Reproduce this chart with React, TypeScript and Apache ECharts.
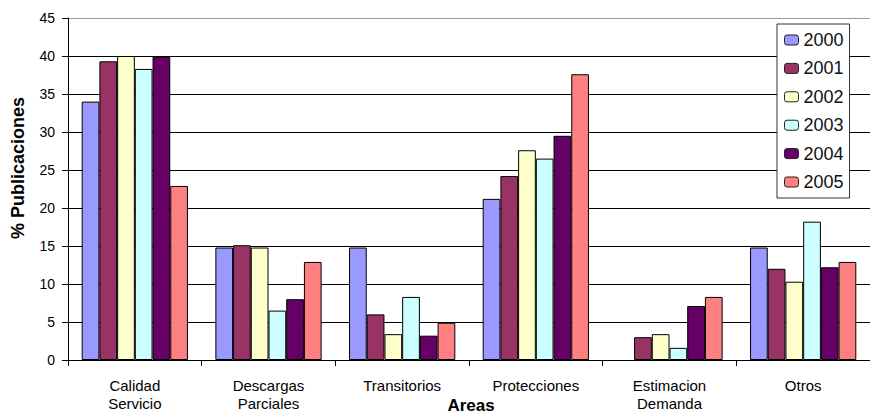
import React, { useEffect, useRef } from "react";
import * as echarts from "echarts";

const categories = [
  "Calidad\nServicio",
  "Descargas\nParciales",
  "Transitorios",
  "Protecciones",
  "Estimacion\nDemanda",
  "Otros",
];
const years = ["2000", "2001", "2002", "2003", "2004", "2005"];
const v2000 = [34.0, 14.8, 14.8, 21.2, 0, 14.8];
const v2001 = [39.3, 15.1, 6.0, 24.2, 3.0, 12.0];
const v2002 = [40.0, 14.8, 3.4, 27.6, 3.4, 10.3];
const v2003 = [38.3, 6.5, 8.3, 26.5, 1.6, 18.2];
const v2004 = [39.9, 8.0, 3.2, 29.5, 7.1, 12.2];
const v2005 = [22.9, 12.9, 4.9, 37.6, 8.3, 12.9];
const seriesValues = [v2000, v2001, v2002, v2003, v2004, v2005];
const colors = ["#9999FF", "#993366", "#FFFFCC", "#CCFFFF", "#660066", "#FF8080"];

const FONT = "'Liberation Sans', Arial, Helvetica, sans-serif";

export default function App() {
  const ref = useRef<HTMLDivElement>(null);
  useEffect(() => {
    if (!ref.current) return;
    const chart = echarts.init(ref.current, null, { renderer: "svg" });
    const gridColors = ["#000", "#000", "#000", "#000", "#000", "#000", "#000", "#000", "#000", "#999"];
    chart.setOption({
      animation: false,
      backgroundColor: "#fff",
      textStyle: { fontFamily: FONT },
      grid: { left: 68, top: 18, bottom: 56, right: -9, containLabel: false },
      legend: {
        orient: "vertical",
        left: 777,
        top: 24,
        padding: [6, 6, 6, 7],
        itemWidth: 14,
        itemHeight: 10,
        itemGap: 8.4,
        backgroundColor: "#fff",
        borderColor: "#333",
        borderWidth: 1,
        borderRadius: 0,
        textStyle: { fontSize: 18, lineHeight: 20, color: "#111", fontFamily: FONT },
        data: years.map((y, i) => ({
          name: y,
          itemStyle: { color: colors[i], borderColor: "#222", borderWidth: 1 },
        })),
      },
      xAxis: {
        type: "category",
        data: categories,
        axisLine: { lineStyle: { color: "#000", width: 1 } },
        axisTick: { show: true, length: 6, lineStyle: { color: "#000" } },
        axisLabel: {
          interval: 0,
          margin: 16,
          fontSize: 15,
          lineHeight: 18,
          color: "#000",
          fontFamily: FONT,
        },
      },
      yAxis: {
        type: "value",
        min: 0,
        max: 45,
        interval: 5,
        axisLine: { show: true, lineStyle: { color: "#000", width: 1 } },
        axisTick: { show: true, length: 6, lineStyle: { color: "#000" } },
        axisLabel: { fontSize: 14, color: "#000", margin: 13, fontFamily: FONT },
        splitLine: { show: true, lineStyle: { color: gridColors, width: 1 } },
      },
      graphic: [
        {
          type: "text",
          x: 18,
          y: 168,
          rotation: Math.PI / 2,
          style: {
            text: "% Publicaciones",
            align: "center",
            verticalAlign: "middle",
            font: `bold 18px ${FONT}`,
            fill: "#000",
          },
        },
        {
          type: "text",
          x: 471,
          y: 405,
          style: {
            text: "Areas",
            align: "center",
            verticalAlign: "middle",
            font: `bold 17px ${FONT}`,
            fill: "#000",
          },
        },
      ],
      series: years.map((y, i) => ({
        name: y,
        type: "bar",
        data: seriesValues[i].map((v) =>
          v === 0 ? { value: v, itemStyle: { borderWidth: 0 } } : v
        ),
        barGap: "0%",
        barCategoryGap: "20.5%",
        itemStyle: { color: colors[i], borderColor: "#000", borderWidth: 1 },
      })),
    });
    return () => chart.dispose();
  }, []);
  return (
    <div
      ref={ref}
      style={{ position: "absolute", left: 0, top: 0, width: 870, height: 416 }}
    />
  );
}
